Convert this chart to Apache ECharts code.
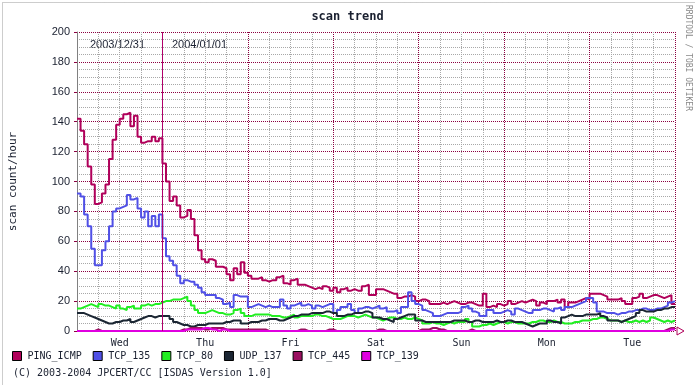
<!DOCTYPE html>
<html><head><meta charset="utf-8">
<script src="https://cdn.jsdelivr.net/npm/echarts@6/dist/echarts.min.js"></script>
<style>html,body{margin:0;padding:0;background:#fff}#c{width:695px;height:385px}</style>
</head><body><div id="c"></div>
<script>
var dayLabels = ['Wed','Thu','Fri','Sat','Sun','Mon','Tue'];
var yTicks = [0,20,40,60,80,100,120,140,160,180,200];
var seriesNames = ['PING_ICMP','TCP_135','TCP_80','UDP_137','TCP_445','TCP_139'];
// hourly values, 2003/12/31 00:00 .. 2004/01/06 23:00
var PING_ICMP = [
142,134,125,110,98,85,86,92,98,115,128,138,142,145,146,137,144,130,126,127,127,130,127,129,
112,100,87,90,84,76,77,81,75,64,54,48,46,48,47,43,43,42,38,34,42,38,46,39,
37,35,35,36,34,33,34,34,36,37,32,31,34,35,31,31,30,29,28,29,28,30,29,27,
29,26,28,29,27,28,27,27,30,31,24,24,28,28,27,26,25,25,22,23,23,24,23,20,
21,21,20,18,18,18,19,18,19,20,19,18,18,19,19,18,17,17,25,16,17,16,18,17,
18,20,18,19,20,19,20,21,20,17,19,18,20,20,21,19,21,16,19,19,20,21,22,21,
25,25,25,24,23,21,21,21,22,20,18,18,22,23,25,22,23,24,24,23,22,23,24,18];
var TCP_135 = [
92,90,78,70,55,44,44,54,60,70,80,82,83,84,91,88,89,82,76,80,70,77,70,78,
62,50,47,44,37,32,34,33,33,31,29,26,24,24,24,22,21,18,19,16,24,23,23,23,
16,17,18,17,16,17,16,16,16,21,17,15,17,18,19,17,18,17,15,17,16,17,18,18,
12,14,16,16,18,14,12,15,16,16,15,16,17,15,16,13,13,14,12,16,16,26,20,18,
17,14,13,12,10,10,11,12,12,12,12,13,16,17,15,13,12,10,10,14,14,12,12,13,
14,13,11,15,14,13,12,12,14,14,15,15,14,13,15,16,14,16,16,17,18,19,20,22,
22,19,13,13,12,12,12,11,12,12,13,13,14,14,15,15,14,14,15,15,16,17,19,20];
var TCP_80 = [
15,16,17,18,17,16,18,17,17,16,15,17,15,14,16,17,15,15,17,18,17,18,18,19,
20,20,21,21,21,22,23,20,17,14,12,12,13,14,13,12,12,11,11,12,14,15,12,10,
10,11,11,11,11,11,10,10,10,9,9,10,11,9,10,10,10,10,11,11,10,10,9,8,
8,8,9,10,10,10,9,10,11,10,9,9,8,7,8,9,9,8,8,9,8,8,9,8,
7,5,5,6,5,5,4,5,6,5,6,6,6,8,6,3,3,4,4,5,4,5,6,6,
5,6,6,5,5,5,5,6,6,7,7,6,6,7,6,6,5,5,5,6,6,7,7,7,
8,8,9,9,8,7,7,7,6,7,6,6,7,6,7,6,7,9,8,7,6,7,6,7];
var UDP_137 = [
12,12,11,10,9,8,7,6,5,5,6,6,7,7,8,6,7,8,9,10,10,9,10,10,
10,10,8,6,5,4,4,3,3,4,4,4,5,5,5,5,5,6,6,7,7,7,5,5,
6,6,6,7,7,8,8,8,7,7,8,9,10,10,11,11,11,12,12,12,12,13,13,12,
12,10,10,11,11,12,12,12,13,13,12,9,9,8,8,7,6,8,9,10,11,11,11,7,
7,6,6,6,6,6,6,6,6,7,7,7,7,6,6,7,7,6,6,6,6,7,6,6,
7,7,6,6,6,5,4,3,4,5,5,5,7,6,6,5,9,10,11,10,10,10,11,11,
11,11,12,10,9,7,7,7,6,7,8,9,10,12,14,13,13,13,14,14,15,15,16,16];
var TCP_445 = [
0,0,0,0,0,1,0,0,0,0,0,0,0,0,0,0,0,0,0,0,0,0,0,0,
0,0,0,0,0,1,1,2,2,2,2,1,1,2,2,2,2,1,1,1,1,1,1,1,
1,1,1,1,1,0,0,0,0,0,0,0,0,0,1,1,0,0,0,0,0,0,1,1,
0,0,0,0,0,0,0,0,0,0,0,0,1,1,0,0,0,0,0,0,0,0,0,0,
1,1,1,2,2,1,1,0,0,0,0,0,0,0,1,0,0,0,0,0,0,0,0,0,
0,0,0,0,0,0,0,0,0,0,0,0,0,0,0,0,0,0,0,0,0,0,0,0,
0,0,0,0,0,0,0,0,0,0,0,0,0,0,0,0,0,0,0,0,0,1,2,2];
var TCP_139 = [
0,0,0,0,0,0,0,0,0,0,0,0,0,0,0,0,0,0,0,0,0,0,0,0,
0,0,0,0,0,0,1,1,1,1,1,2,2,1,1,0,1,1,0,0,0,0,0,0,
0,0,0,0,0,0,0,0,0,0,0,0,0,0,0,0,0,0,0,0,0,0,0,0,
0,0,0,0,0,0,0,0,0,0,0,0,0,0,0,0,0,0,0,0,0,0,0,0,
0,0,0,0,0,0,0,0,0,0,0,0,0,0,0,0,0,0,0,0,0,0,0,0,
0,0,0,0,0,0,0,0,0,0,0,0,0,0,0,0,0,0,0,0,0,0,0,0,
0,0,0,0,0,0,0,0,0,0,0,0,0,0,0,0,0,0,0,0,0,0,1,1];
var colors = ['#b0005a','#5050e6','#22ee22','#1b2633','#9a1060','#e000e0'];
var allData = [PING_ICMP,TCP_135,TCP_80,UDP_137,TCP_445,TCP_139];

var MAJ = '#8c0040', MIN = '#a8a8a8';
var chart = echarts.init(document.getElementById('c'), null, {renderer:'canvas'});
function toPts(arr){ var p = arr.map(function(v,i){return [i, v];}); p.push([arr.length, arr[arr.length-1]]); return p; }
var series = allData.map(function(arr, k){
  var s = {name: seriesNames[k], type:'line', step:'end', data: toPts(arr), symbol:'none', clip:false,
    lineStyle:{color: colors[k], width:2}, itemStyle:{color: colors[k]}, animation:false};
  if (k===0) s.markLine = {silent:true, symbol:'none', label:{show:false}, lineStyle:{color:'#b0006a', type:'solid', width:1},
    data:[{xAxis:24}], animation:false};
  return s;
});
var mono = 'DejaVu Sans Mono';
chart.setOption({
  backgroundColor:'#ffffff',
  animation:false,
  title:{text:'scan trend', left:'center', top:6, textStyle:{fontFamily:mono, fontWeight:'bold', fontSize:12, color:'#1a2030'}},
  legend:{left:12, top:351, padding:0, itemWidth:9, itemHeight:9, itemGap:11, icon:'rect',
    itemStyle:{borderColor:'#000', borderWidth:1},
    textStyle:{fontFamily:mono, fontSize:10, color:'#1a2030', padding:[0,0,0,1]},
    data: seriesNames.map(function(n,k){return {name:n, icon:'rect', itemStyle:{color:colors[k], borderColor:'#000', borderWidth:1}};})},
  grid:{left:75, right:20, top:32, bottom:54},
  xAxis:[
    {type:'value', min:0, max:168, interval:24, axisLabel:{show:false}, axisTick:{show:false}, axisLine:{show:false},
     splitLine:{show:true, lineStyle:{color:MAJ, type:[1,1], width:1}},
     minorTick:{show:false, splitNumber:4}, minorSplitLine:{show:true, lineStyle:{color:MIN, type:[1,1], width:1}}},
    {type:'value', min:0, max:168, interval:12, position:'bottom', axisLine:{show:false}, axisTick:{show:false}, splitLine:{show:false},
     axisLabel:{margin:7, fontFamily:mono, fontSize:10, color:'#1a2030', formatter:function(v){ return (v%24===12) ? dayLabels[(v-12)/24] : ''; }}}
  ],
  yAxis:{type:'value', min:yTicks[0], max:yTicks[yTicks.length-1], interval:20,
    name:'scan count/hour', nameLocation:'middle', nameGap:58, nameRotate:90,
    nameTextStyle:{fontFamily:mono, fontSize:11, color:'#1a2030'},
    axisLine:{show:true, lineStyle:{color:'#808080', width:1}},
    axisTick:{show:true, length:3, lineStyle:{color:MAJ}},
    axisLabel:{margin:7, fontFamily:'Liberation Sans', fontSize:11, color:'#1a2030'},
    splitLine:{show:true, lineStyle:{color:MAJ, type:[1,1], width:1}},
    minorTick:{show:false, splitNumber:4}, minorSplitLine:{show:true, lineStyle:{color:MIN, type:[1,1], width:1}}},
  series: series,
  graphic:[
    {type:'rect', left:0, top:0, shape:{width:694, height:384}, style:{fill:'none', stroke:'#9a9a9a', lineWidth:1, lineDash:[1,1]}, silent:true},
    {type:'text', left:90, top:39, style:{text:'2003/12/31', font:'11px "Liberation Sans"', fill:'#1a2030'}},
    {type:'text', left:172, top:39, style:{text:'2004/01/01', font:'11px "Liberation Sans"', fill:'#1a2030'}},
    {type:'text', x:692, y:5, rotation:-Math.PI/2, style:{text:'RRDTOOL / TOBI OETIKER', font:'8px "DejaVu Sans Mono"', fill:'#888'}},
    {type:'text', left:13, top:368, style:{text:'(C) 2003-2004 JPCERT/CC [ISDAS Version 1.0]', font:'10px "DejaVu Sans Mono"', fill:'#1a2030'}},
    {type:'polygon', shape:{points:[[677,327],[684,331],[677,335]]}, style:{fill:'#fff', stroke:'#b0005a', lineWidth:1}}
  ]
});
</script></body></html>
